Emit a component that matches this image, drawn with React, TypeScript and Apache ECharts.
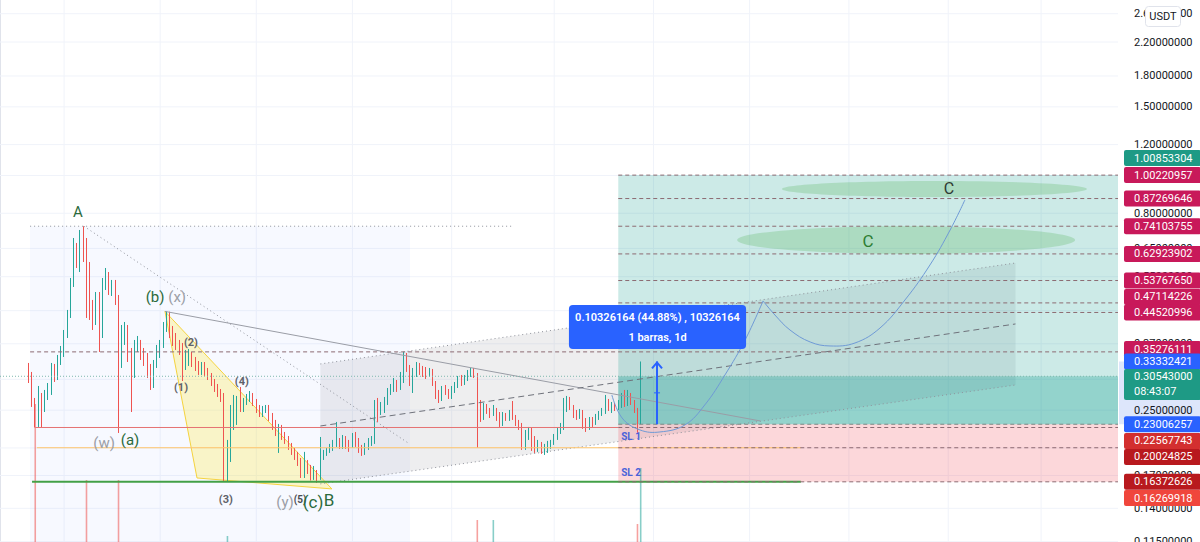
import { useEffect, useRef } from "react";
import * as echarts from "echarts";

// ---------------- data (daily candles, USDT) ----------------
const X_MAX = 349; // day slots across the plot (candles + future space)
const Y_MIN = 0.11475;
const Y_MAX = 2.8196;

const FIRST_INDEX = 9;
const FIRST_OPEN = 0.3114;
const closes = [
  0.3042, 0.2624, 0.2459, 0.2687, 0.2518, 0.2767, 0.2817, 0.3226, 0.306, 0.3403,
  0.3526, 0.3944, 0.4439, 0.5331, 0.6516, 0.5999, 0.6995, 0.6516, 0.5622, 0.4519,
  0.4184, 0.4908, 0.3898, 0.53, 0.559, 0.5085, 0.5331, 0.485, 0.3304, 0.3944,
  0.4062, 0.3403, 0.3042, 0.3675, 0.3697, 0.3464, 0.3304, 0.3114, 0.2988, 0.3285,
  0.3464, 0.3675, 0.4086, 0.4439, 0.3944, 0.374, 0.3675, 0.3568, 0.3265, 0.3444,
  0.3485, 0.3323, 0.3226, 0.3151, 0.3246, 0.3133, 0.3042, 0.2935, 0.285, 0.2767,
  0.2687, 0.1756, 0.1885, 0.2503, 0.2624, 0.2655, 0.2533, 0.2639, 0.2687, 0.2735,
  0.2608, 0.2503, 0.2445, 0.2518, 0.2548, 0.2387, 0.2277, 0.2198, 0.2251, 0.2146,
  0.2097, 0.2012, 0.1954, 0.1896, 0.1841, 0.1705, 0.183, 0.1756, 0.1685, 0.1756,
  0.1665, 0.1919, 0.1942, 0.1977, 0.2012, 0.206, 0.2097, 0.2024, 0.2121, 0.2024,
  0.2, 0.2134, 0.2048, 0.1977, 0.1942, 0.2012, 0.2072, 0.2097, 0.2578, 0.2473,
  0.2578, 0.2655, 0.2784, 0.285, 0.2953, 0.285, 0.3078, 0.3464, 0.3208, 0.2953,
  0.3133, 0.3226, 0.317, 0.3114, 0.3078, 0.3151, 0.2935, 0.2719, 0.2671, 0.2817,
  0.2784, 0.2703, 0.2817, 0.2901, 0.3006, 0.2935, 0.3024, 0.3114, 0.3151, 0.3078,
  0.2624, 0.2387, 0.2578, 0.2473, 0.2445, 0.2518, 0.2387, 0.2305, 0.2416, 0.2373,
  0.2459, 0.2387, 0.2318, 0.2264, 0.2012, 0.2121, 0.2224, 0.2, 0.1965, 0.2036,
  0.1954, 0.2, 0.2024, 0.206, 0.2134, 0.2211, 0.2277, 0.2548, 0.2639, 0.2548,
  0.243, 0.2401, 0.2473, 0.2277, 0.2251, 0.236, 0.2318, 0.2387, 0.2445, 0.2488,
  0.2639, 0.2533, 0.2578, 0.2533, 0.2593, 0.2687, 0.2593, 0.2735, 0.2624, 0.2503,
  0.2332, 0.30543,
];
const highs = [
  0.3304, 0.3133, 0.2687, 0.2884, 0.2767, 0.2817, 0.2935, 0.3304, 0.3285, 0.3464,
  0.3653, 0.4015, 0.4519, 0.5458, 0.6913, 0.6713, 0.7248, 0.741, 0.6913, 0.5999,
  0.4794, 0.5025, 0.5025, 0.5458, 0.579, 0.5655, 0.5395, 0.5395, 0.4937, 0.4135,
  0.4209, 0.4135, 0.361, 0.3785, 0.3875, 0.3785, 0.361, 0.3505, 0.3285, 0.3363,
  0.3675, 0.3785, 0.4209, 0.448, 0.4473, 0.4111, 0.3944, 0.3785, 0.3718, 0.3568,
  0.3589, 0.3526, 0.3423, 0.3343, 0.3323, 0.3323, 0.3208, 0.3114, 0.3006, 0.2918,
  0.2833, 0.2767, 0.2097, 0.2578, 0.2735, 0.2719, 0.2867, 0.2687, 0.2751, 0.28,
  0.2767, 0.2671, 0.2578, 0.2563, 0.2578, 0.2578, 0.2459, 0.236, 0.2305, 0.2291,
  0.2198, 0.2146, 0.206, 0.2, 0.1954, 0.1885, 0.1954, 0.1863, 0.1809, 0.1798,
  0.1756, 0.2134, 0.1977, 0.2001, 0.2048, 0.2097, 0.2332, 0.2121, 0.2159, 0.2146,
  0.2097, 0.2185, 0.2198, 0.2121, 0.2036, 0.206, 0.2121, 0.2146, 0.2655, 0.2687,
  0.2624, 0.2703, 0.285, 0.2918, 0.3024, 0.2988, 0.3133, 0.3528, 0.3505, 0.3265,
  0.3208, 0.3323, 0.3304, 0.3246, 0.3226, 0.3208, 0.3189, 0.297, 0.2817, 0.2884,
  0.2901, 0.2833, 0.2884, 0.2953, 0.306, 0.3078, 0.3078, 0.317, 0.3208, 0.3208,
  0.3114, 0.2655, 0.2608, 0.2593, 0.2533, 0.2578, 0.2533, 0.2473, 0.2473, 0.2459,
  0.2503, 0.2639, 0.243, 0.236, 0.2318, 0.2224, 0.2264, 0.2251, 0.2146, 0.2097,
  0.2072, 0.2048, 0.2085, 0.2097, 0.2172, 0.2251, 0.2318, 0.2687, 0.2719, 0.2703,
  0.2578, 0.2503, 0.2518, 0.2503, 0.2387, 0.2401, 0.2401, 0.2445, 0.2488, 0.2533,
  0.2735, 0.2671, 0.2624, 0.2608, 0.2655, 0.2767, 0.2817, 0.2817, 0.2767, 0.2655,
  0.2533, 0.3333,
];
const lows = [
  0.2935, 0.2548, 0.2257, 0.2264, 0.2262, 0.2473, 0.2655, 0.2735, 0.2953, 0.2988,
  0.3265, 0.3423, 0.3829, 0.431, 0.5176, 0.579, 0.5655, 0.5999, 0.431, 0.4259,
  0.4015, 0.4135, 0.3526, 0.3829, 0.5085, 0.4937, 0.4908, 0.4654, 0.2185, 0.3208,
  0.3675, 0.3323, 0.2473, 0.3024, 0.3526, 0.3363, 0.3246, 0.3024, 0.2817, 0.285,
  0.3208, 0.3403, 0.361, 0.3968, 0.3829, 0.3653, 0.3568, 0.3464, 0.297, 0.317,
  0.3246, 0.3226, 0.3151, 0.3078, 0.3078, 0.306, 0.2988, 0.2884, 0.2784, 0.2703,
  0.2624, 0.1646, 0.1636, 0.1841, 0.2224, 0.2291, 0.2473, 0.2473, 0.2578, 0.2624,
  0.2563, 0.2459, 0.2401, 0.2401, 0.2459, 0.2346, 0.2224, 0.2146, 0.1942, 0.2097,
  0.2048, 0.1977, 0.1919, 0.1863, 0.1798, 0.1675, 0.1675, 0.1715, 0.165, 0.1656,
  0.1627, 0.1656, 0.1863, 0.1908, 0.1942, 0.1965, 0.2012, 0.1989, 0.1989, 0.1989,
  0.1954, 0.2, 0.2012, 0.1942, 0.1908, 0.1919, 0.1977, 0.2024, 0.2048, 0.2332,
  0.243, 0.2459, 0.2578, 0.2735, 0.2784, 0.2784, 0.2817, 0.2935, 0.3133, 0.2884,
  0.2767, 0.3042, 0.3078, 0.3042, 0.3006, 0.3042, 0.2884, 0.2671, 0.2608, 0.2639,
  0.2735, 0.2671, 0.2671, 0.2767, 0.285, 0.2884, 0.2901, 0.297, 0.3042, 0.3024,
  0.2002, 0.2332, 0.236, 0.2445, 0.2387, 0.2416, 0.2346, 0.2264, 0.2277, 0.2346,
  0.2346, 0.236, 0.2277, 0.2224, 0.1977, 0.1977, 0.2097, 0.1965, 0.1942, 0.1954,
  0.1931, 0.1919, 0.1942, 0.1989, 0.2036, 0.2097, 0.2172, 0.2224, 0.2473, 0.2503,
  0.2387, 0.236, 0.2374, 0.2238, 0.2198, 0.2224, 0.2264, 0.2291, 0.236, 0.2416,
  0.2445, 0.2488, 0.2459, 0.2488, 0.2503, 0.2533, 0.2548, 0.2563, 0.2578, 0.2459,
  0.2185, 0.2301,
];

// visible tops of the volume pane (only the tallest bars reach into view)
const VOL_MIN = 59.5; // volume level at the bottom edge of the picture
const VOL_MAX = 195; // volume level at the top edge
const volumeDays = [11, 27, 37, 71, 149, 154, 199, 200];
const volumeValues = [94, 75, 75, 61, 65, 65, 64, 78];
const volumeUp = [false, false, false, true, false, true, false, true];

// price scale
const tickValues = [2.6, 2.2, 1.8, 1.5, 1.2, 1.0, 0.8, 0.65, 0.55, 0.45, 0.37, 0.3, 0.25, 0.2, 0.17, 0.14, 0.115];
const monthStarts = [20, 50, 80, 110, 141, 173, 204, 234, 265, 296, 325];

// long position tool
const POS_START = 193;
const ENTRY = 0.23006257;
const TARGET = 1.00220957;
const STOP = 0.16372626;
const LAST = 0.30543;
const BAR_HIGH = 0.33332421;
const targetLevels = [1.00220957, 0.87269646, 0.74103755, 0.62923902, 0.5376765, 0.47114226, 0.44520996];
const stopLevels = [0.22567743, 0.20024825, 0.16372626];

// right-axis price tags: text, price where the tag sits, colour kind
const tagTexts = [
  "1.00853304", "1.00220957", "0.87269646", "0.74103755", "0.62923902", "0.53767650",
  "0.47114226", "0.44520996", "0.35276111", "0.33332421", "0.30543000\n08:43:07",
  "0.23006257", "0.22567743", "0.20024825", "0.16372626", "0.16269918",
];
const tagPrices = [
  1.1088, 1.00221, 0.8727, 0.74104, 0.62924, 0.53768, 0.4879, 0.44521, 0.3588, 0.33332, 0.291,
  0.23006, 0.2084, 0.1896, 0.16373, 0.1488,
];
const tagKinds = [
  "teal", "crimson", "crimson", "crimson", "crimson", "crimson", "crimson", "crimson", "crimson",
  "blue", "teal", "blue", "red", "darkred", "darkred", "brightred",
];

// wave labels
const waveTexts = ["A", "(b)", "(x)", "(1)", "(2)", "(3)", "(4)", "(w)", "(a)", "(y)", "(5)", "(c)", "B"];
const waveX = [24.3, 48.4, 55.3, 56.5, 59.6, 70.5, 75.5, 32.5, 40.6, 89.0, 93.7, 97.7, 102.7];
const waveY = [0.806, 0.488, 0.488, 0.285, 0.3718, 0.1479, 0.2953, 0.206, 0.2097, 0.1454, 0.1479, 0.1454, 0.1471];
const waveKinds = ["green", "green", "gray", "num", "num", "num", "num", "gray", "green", "gray", "small", "greenBig", "greenBig"];

// drawings (day index, price)
const rangeA: [number, number][] = [[9.4, 0.741], [128, Y_MIN]];
const channelUpper: [number, number][] = [[100, 0.3285], [317, 0.5964]];
const channelLower: [number, number][] = [[100, 0.1617], [317, 0.2901]];
const channelMid: [number, number][] = [[100, 0.2277], [317, 0.416]];
const triangle: [number, number][] = [[51.5, 0.448], [61.5, 0.1675], [103.6, 0.157]];
const aTop: [number, number][] = [[9.4, 0.741], [160, 0.741]];
const aDiag: [number, number][] = [[26.2, 0.741], [127.4, 0.206]];
const bLine: [number, number][] = [[51.5, 0.448], [237.3, 0.2346]];
const wLine: [number, number][] = [[11, 0.22568], [193, 0.22568]];
const orangeLine: [number, number][] = [[11.5, 0.20025], [250, 0.20025]];
const greenLine: [number, number][] = [[10, 0.16373], [250, 0.16373]];
const peakLine: [number, number][] = [[9.4, 0.35276], [X_MAX, 0.35276]];
const pathX1 = [191, 194.2, 199.8, 206, 213.8, 220, 226.3, 232.6, 238.2];
const pathY1 = [0.2735, 0.2387, 0.2224, 0.2198, 0.2291, 0.2578, 0.3078, 0.3785, 0.4766];
const pathX2 = [238.2, 241.9, 246.6, 252.9, 259.1, 266.9, 274.7, 282.5, 290.3, 296.6, 301.2];
const pathY2 = [0.4766, 0.4387, 0.4015, 0.374, 0.3653, 0.3718, 0.4062, 0.4794, 0.5894, 0.7248, 0.8652];
const ellipseSmall: [number, number][] = [[244.1, 0.968], [339.3, 0.8807]];
const ellipseBig: [number, number][] = [[230.1, 0.741], [335.6, 0.6292]];
const cLabels = ["C", "C"];
const cX = [296.2, 271.0];
const cY = [0.9233, 0.6792];
const slTexts = ["SL 1", "SL 2"];
const slX = [197, 197];
const slY = [0.2134, 0.1735];
const ARROW_X = 205.1;
const tooltipBox: [number, number][] = [[177.6, 0.4654], [232.9, 0.3586]];
const tooltipLines = ["0.10326164 (44.88%) , 10326164", "1 barras, 1d"];

// ---------------- styling ----------------
const FONT = "Roboto, 'Noto Sans', sans-serif";
const UP = "#26a69a";
const DOWN = "#ef5350";
const tagColors: Record<string, string> = {
  teal: "#1e9a85",
  crimson: "#c8195a",
  blue: "#2962ff",
  red: "#d32f2f",
  darkred: "#b8191e",
  brightred: "#f0463c",
};

function buildShapes() {
  const back: any[] = [];
  const over: any[] = [];
  back.push({ kind: "rect", pts: rangeA, style: { fill: "rgba(41,98,255,0.035)" } });
  back.push({
    kind: "polygon",
    pts: [channelUpper[0], channelUpper[1], channelLower[1], channelLower[0]],
    style: { fill: "rgba(120,123,134,0.13)" },
  });
  back.push({ kind: "polygon", pts: triangle, style: { fill: "rgba(255,235,59,0.28)", stroke: "#f5d33f", lineWidth: 1 } });
  back.push({ kind: "rect", pts: [[POS_START, TARGET], [X_MAX, ENTRY]], style: { fill: "rgba(0,150,136,0.2)" } });
  back.push({ kind: "rect", pts: [[POS_START, LAST], [X_MAX, ENTRY]], style: { fill: "rgba(0,150,136,0.28)" } });
  back.push({ kind: "rect", pts: [[POS_START, ENTRY], [X_MAX, STOP]], style: { fill: "rgba(242,54,69,0.2)" } });

  const dotted = { stroke: "#8f929b", lineWidth: 1, lineDash: [1, 3] };
  const dashed = { stroke: "#8c6b72", lineWidth: 1, lineDash: [4, 3] };
  over.push({ kind: "polyline", pts: aTop, style: dotted });
  over.push({ kind: "polyline", pts: aDiag, style: dotted });
  over.push({ kind: "polyline", pts: bLine, style: { stroke: "#9a9da6", lineWidth: 1 } });
  over.push({ kind: "polyline", pts: channelUpper, style: dotted });
  over.push({ kind: "polyline", pts: channelLower, style: dotted });
  over.push({ kind: "polyline", pts: channelMid, style: { stroke: "#6f727b", lineWidth: 1, lineDash: [6, 4] } });
  over.push({ kind: "polyline", pts: peakLine, style: dashed });
  over.push({ kind: "polyline", pts: [[0, LAST], [X_MAX, LAST]], style: { stroke: "#7fb8ae", lineWidth: 1, lineDash: [1, 2] } });
  over.push({ kind: "polyline", pts: wLine, style: { stroke: "#e57373", lineWidth: 1 } });
  over.push({ kind: "polyline", pts: orangeLine, style: { stroke: "#ffc46b", lineWidth: 1 } });
  over.push({ kind: "polyline", pts: greenLine, style: { stroke: "#43a047", lineWidth: 2 } });
  targetLevels.forEach((v) => over.push({ kind: "polyline", pts: [[POS_START, v], [X_MAX, v]], style: dashed }));
  stopLevels.forEach((v) => over.push({ kind: "polyline", pts: [[POS_START, v], [X_MAX, v]], style: dashed }));
  over.push({ kind: "polyline", pts: [[POS_START, ENTRY], [X_MAX, ENTRY]], style: { stroke: "#7c8a86", lineWidth: 1, lineDash: [4, 3] } });
  over.push({ kind: "ellipse", pts: ellipseSmall, style: { fill: "rgba(76,175,80,0.25)" } });
  over.push({ kind: "ellipse", pts: ellipseBig, style: { fill: "rgba(76,175,80,0.25)" } });
  over.push({
    kind: "polyline",
    smooth: 0.4,
    pts: pathX1.map((x, k) => [x, pathY1[k]]),
    style: { stroke: "#6f9ad6", lineWidth: 1 },
  });
  over.push({
    kind: "polyline",
    smooth: 0.4,
    pts: pathX2.map((x, k) => [x, pathY2[k]]),
    style: { stroke: "#6f9ad6", lineWidth: 1 },
  });
  over.push({ kind: "arrow", pts: [[ARROW_X, ENTRY], [ARROW_X, BAR_HIGH]], style: { stroke: "#2962ff", lineWidth: 2 } });

  const waveStyle: Record<string, any> = {
    green: { fill: "#2b6a3c", font: `15px ${FONT}` },
    greenBig: { fill: "#2b6a3c", font: `17px ${FONT}` },
    gray: { fill: "#9b9ea6", font: `15px ${FONT}` },
    num: { fill: "#5f6269", font: `bold 11px ${FONT}` },
    small: { fill: "#4a4d54", font: `bold 10px ${FONT}` },
  };
  waveTexts.forEach((t, k) =>
    over.push({ kind: "text", pts: [[waveX[k], waveY[k]]], text: t, style: waveStyle[waveKinds[k]] })
  );
  cLabels.forEach((t, k) =>
    over.push({
      kind: "text",
      pts: [[cX[k], cY[k]]],
      text: t,
      style: k === 0 ? { fill: "#2f3a33", font: `16px ${FONT}` } : { fill: "#2e7d32", font: `17px ${FONT}` },
    })
  );
  slTexts.forEach((t, k) =>
    over.push({ kind: "text", pts: [[slX[k], slY[k]]], text: t, style: { fill: "#4a63d9", font: `bold 10px ${FONT}` } })
  );
  over.push({ kind: "tooltip", pts: tooltipBox, lines: tooltipLines, style: { fill: "#2962ff" } });
  return { back, over };
}

function renderShape(s: any, api: any) {
  const px = s.pts.map((p: number[]) => api.coord(p));
  switch (s.kind) {
    case "rect": {
      const x = Math.min(px[0][0], px[1][0]);
      const y = Math.min(px[0][1], px[1][1]);
      return {
        type: "rect",
        shape: { x, y, width: Math.abs(px[1][0] - px[0][0]), height: Math.abs(px[1][1] - px[0][1]) },
        style: s.style,
      };
    }
    case "polygon":
      return { type: "polygon", shape: { points: px }, style: s.style };
    case "polyline":
      return { type: "polyline", shape: { points: px, smooth: s.smooth || 0 }, style: { fill: "none", ...s.style } };
    case "ellipse":
      return {
        type: "ellipse",
        shape: {
          cx: (px[0][0] + px[1][0]) / 2,
          cy: (px[0][1] + px[1][1]) / 2,
          rx: Math.abs(px[1][0] - px[0][0]) / 2,
          ry: Math.abs(px[1][1] - px[0][1]) / 2,
        },
        style: s.style,
      };
    case "text":
      return {
        type: "text",
        x: px[0][0],
        y: px[0][1],
        style: { text: s.text, align: "center", verticalAlign: "middle", ...s.style },
      };
    case "arrow": {
      const [a, b] = px;
      return {
        type: "group",
        children: [
          { type: "line", shape: { x1: a[0], y1: a[1], x2: b[0], y2: b[1] }, style: s.style },
          { type: "polyline", shape: { points: [[b[0] - 5, b[1] + 7], [b[0], b[1] + 1], [b[0] + 5, b[1] + 7]] }, style: { fill: "none", ...s.style } },
          { type: "line", shape: { x1: b[0] - 3, y1: (a[1] + b[1]) / 2, x2: b[0] + 3, y2: (a[1] + b[1]) / 2 }, style: { stroke: s.style.stroke, lineWidth: 1 } },
        ],
      };
    }
    case "tooltip": {
      const x = Math.min(px[0][0], px[1][0]);
      const y = Math.min(px[0][1], px[1][1]);
      const w = Math.abs(px[1][0] - px[0][0]);
      const h = Math.abs(px[1][1] - px[0][1]);
      return {
        type: "group",
        children: [
          { type: "rect", shape: { x, y, width: w, height: h, r: 4 }, style: s.style },
          { type: "text", x: x + w / 2, y: y + 13, style: { text: s.lines[0], fill: "#fff", font: `600 11px ${FONT}`, align: "center", verticalAlign: "middle" } },
          { type: "text", x: x + w / 2, y: y + 33, style: { text: s.lines[1], fill: "#fff", font: `600 11px ${FONT}`, align: "center", verticalAlign: "middle" } },
        ],
      };
    }
  }
  return null;
}

function buildOption() {
  const candleData = closes.map((c, k) => {
    const o = k === 0 ? FIRST_OPEN : closes[k - 1];
    return [FIRST_INDEX + k, o, c, Math.min(lows[k], o, c), Math.max(highs[k], o, c)];
  });
  const { back, over } = buildShapes();
  const volData = volumeDays.map((d, k) => ({
    value: [d, volumeValues[k]],
    itemStyle: { color: volumeUp[k] ? "rgba(38,166,154,0.55)" : "rgba(239,83,80,0.55)" },
  }));

  return {
    animation: false,
    backgroundColor: "#ffffff",
    grid: { left: 0, right: 82, top: 0, bottom: 0 },
    xAxis: { type: "value", min: 0, max: X_MAX, show: false },
    yAxis: [
      {
        type: "log",
        logBase: 10,
        min: Y_MIN,
        max: Y_MAX,
        position: "right",
        axisLine: { show: true, lineStyle: { color: "#e0e3eb" } },
        axisTick: { show: false },
        axisLabel: { show: false },
        splitLine: { show: false },
      },
      { type: "value", min: VOL_MIN, max: VOL_MAX, show: false, splitLine: { show: false } },
    ],
    graphic: [
      {
        type: "group",
        right: 19,
        top: 6,
        z: 100,
        children: [
          { type: "rect", z: 100, shape: { x: 0, y: 0, width: 35, height: 20, r: 3 }, style: { fill: "#fff", stroke: "#e0e3eb", lineWidth: 1 } },
          { type: "text", z: 101, x: 17.5, y: 10, style: { text: "USDT", fill: "#131722", font: `11px ${FONT}`, align: "center", verticalAlign: "middle" } },
        ],
      },
    ],
    series: [
      {
        type: "custom",
        name: "axis-band",
        z: 0,
        silent: true,
        data: [[0, BAR_HIGH]],
        renderItem: (params: any, api: any) => {
          const cs = params.coordSys;
          const a = api.coord([X_MAX, BAR_HIGH]);
          const b = api.coord([X_MAX, ENTRY]);
          return { type: "rect", shape: { x: cs.x + cs.width + 1, y: a[1], width: 82, height: b[1] - a[1] }, style: { fill: "#dde6fb" } };
        },
      },
      {
        type: "custom",
        name: "grid-v",
        z: 0,
        silent: true,
        data: monthStarts.map((m) => [m, 0.3]),
        renderItem: (params: any, api: any) => {
          const m = monthStarts[params.dataIndex];
          const a = api.coord([m, Y_MIN]);
          const b = api.coord([m, Y_MAX]);
          return { type: "line", shape: { x1: a[0], y1: a[1], x2: b[0], y2: b[1] }, style: { stroke: "#f0f3fa", lineWidth: 1 } };
        },
      },
      {
        type: "custom",
        name: "grid-h",
        z: 0.5,
        silent: true,
        data: tickValues.map((v) => [0, v]),
        renderItem: (params: any, api: any) => {
          const v = tickValues[params.dataIndex];
          const a = api.coord([0, v]);
          const b = api.coord([X_MAX, v]);
          const cs = params.coordSys;
          return {
            type: "group",
            children: [
              { type: "line", shape: { x1: a[0], y1: a[1], x2: b[0], y2: b[1] }, style: { stroke: "#f0f3fa", lineWidth: 1 } },
              {
                type: "text",
                x: cs.x + cs.width + 16,
                y: a[1],
                style: { text: v.toFixed(8), fill: "#131722", font: `11px ${FONT}`, align: "left", verticalAlign: "middle" },
              },
            ],
          };
        },
      },
      {
        type: "custom",
        name: "drawings-back",
        z: 1,
        silent: true,
        data: back.map(() => [0, 0.3]),
        renderItem: (params: any, api: any) => renderShape(back[params.dataIndex], api),
      },
      {
        type: "bar",
        name: "volume",
        yAxisIndex: 1,
        barWidth: 1.6,
        z: 1.5,
        data: volData,
      },
      {
        type: "candlestick",
        name: "price",
        z: 2,
        barWidth: 1.3,
        data: candleData,
        emphasis: { disabled: true },
        itemStyle: { color: UP, color0: DOWN, borderColor: UP, borderColor0: DOWN, borderWidth: 1 },
      },
      {
        type: "custom",
        name: "drawings",
        z: 3,
        silent: true,
        data: over.map(() => [0, 0.3]),
        renderItem: (params: any, api: any) => renderShape(over[params.dataIndex], api),
      },
      {
        type: "custom",
        name: "price-tags",
        z: 4,
        silent: true,
        data: tagPrices.map((p) => [X_MAX, p]),
        renderItem: (params: any, api: any) => {
          const k = params.dataIndex;
          const cs = params.coordSys;
          const y = api.coord([X_MAX, tagPrices[k]])[1];
          const twoLine = tagTexts[k].includes("\n");
          const h = twoLine ? 31 : 16;
          return {
            type: "group",
            children: [
              { type: "rect", shape: { x: cs.x + cs.width + 6, y: y - h / 2, width: 77, height: h, r: 2 }, style: { fill: tagColors[tagKinds[k]] } },
              {
                type: "text",
                x: cs.x + cs.width + 16,
                y,
                style: { text: tagTexts[k], fill: "#ffffff", font: `11px ${FONT}`, lineHeight: 15, align: "left", verticalAlign: "middle" },
              },
            ],
          };
        },
      },
    ],
  };
}

export default function App() {
  const ref = useRef<HTMLDivElement>(null);
  useEffect(() => {
    if (!ref.current) return;
    const chart = echarts.init(ref.current, null, { renderer: "svg" });
    chart.setOption(buildOption() as any);
    return () => chart.dispose();
  }, []);
  return (
    <div
      ref={ref}
      style={{ position: "fixed", left: 0, top: 0, width: 1200, height: 542, background: "#ffffff" }}
    />
  );
}
